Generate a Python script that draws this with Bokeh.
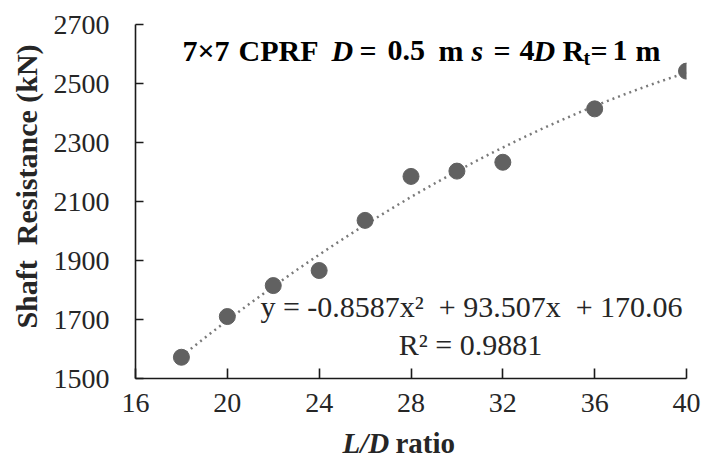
import numpy as np
from bokeh.plotting import figure
from bokeh.layouts import column
from bokeh.models import Range1d, FixedTicker, Label, ColumnDataSource
from bokeh.embed import file_html
from bokeh.resources import INLINE

# ---- data ----
ld_ratio = [18, 20, 22, 24, 26, 28, 30, 32, 36, 40]
shaft_resistance = [1572, 1710, 1815, 1866, 2036, 2185, 2203, 2233, 2414, 2542]
trend_coeffs = [-0.8587, 93.507, 170.06]   # printed polynomial trendline
x_ticks = [16, 20, 24, 28, 32, 36, 40]
y_ticks = [1500, 1700, 1900, 2100, 2300, 2500, 2700]
eq_text = "y = -0.8587x\u00b2\u00a0 + 93.507x\u00a0 + 170.06"
r2_text = "R\u00b2 = 0.9881"
y_title = "\u00a0\u00a0\u00a0\u00a0Shaft\u00a0 Resistance (kN)"

# ---- layout geometry (pixels) ----
W, H = 702, 458
MAIN_H = 425
FL, FR, FT, FB = 135, 686, 24, 378
XMIN, XMAX, YMIN, YMAX = 16, 40, 1500, 2700
BASE_SHIFT = 9   # rendered baseline sits this many px below the requested one

def dx(px):
    return XMIN + (px - FL) * (XMAX - XMIN) / (FR - FL)

def dy(py):
    py = py - BASE_SHIFT
    return YMIN + (FB - py) * (YMAX - YMIN) / (FB - FT)

SERIF = "Liberation Serif"
TICK_COLOR = "#262626"

xr = Range1d(XMIN, XMAX)
p = figure(width=W, height=MAIN_H, output_backend="svg", toolbar_location=None,
           x_range=xr, y_range=Range1d(YMIN, YMAX), title=None,
           min_border_left=FL, min_border_right=W - FR,
           min_border_top=FT, min_border_bottom=MAIN_H - FB)
p.outline_line_color = None
p.xgrid.visible = False
p.ygrid.visible = False
p.background_fill_color = "white"
p.border_fill_color = "white"

for ax, ticks, tin in ((p.xaxis[0], x_ticks, 10), (p.yaxis[0], y_ticks, 8)):
    ax.ticker = FixedTicker(ticks=ticks)
    ax.minor_tick_line_color = None
    ax.major_tick_in = tin
    ax.major_tick_out = 0
    ax.axis_line_color = "#1a1a1a"
    ax.axis_line_width = 1.6
    ax.major_tick_line_color = "#1a1a1a"
    ax.major_tick_line_width = 1.6
    ax.major_label_text_font = SERIF
    ax.major_label_text_font_size = "28px"
    ax.major_label_text_color = TICK_COLOR
p.yaxis[0].major_label_standoff = 26
p.xaxis[0].major_label_standoff = 15

p.yaxis[0].axis_label = y_title
p.yaxis[0].axis_label_text_font = SERIF
p.yaxis[0].axis_label_text_font_size = "30px"
p.yaxis[0].axis_label_text_font_style = "bold"
p.yaxis[0].axis_label_text_color = TICK_COLOR
p.yaxis[0].axis_label_standoff = 8

# trendline from printed coefficients
xt = np.linspace(min(ld_ratio), max(ld_ratio), 200)
yt = np.polyval(trend_coeffs, xt)
p.line(xt, yt, line_color="#7a7a7a", line_width=2.5, line_dash="2 4")

src = ColumnDataSource(dict(x=ld_ratio, y=shaft_resistance))
p.scatter("x", "y", source=src, size=16, fill_color="#616161", line_color="#616161")

def lab(fig, text, x, y, size="30px", style="normal", align="left", color="black"):
    fig.add_layout(Label(x=x, y=y, text=text, text_font=SERIF,
                         text_font_size=size, text_font_style=style,
                         text_align=align, text_baseline="alphabetic",
                         text_color=color))

# title with mixed styles (pixel positions converted to data)
title_parts = [
    ("7\u00d77", 182, 59, "30px", "bold"),
    ("CPRF", 238, 59, "30px", "bold"),
    ("D", 331, 59, "30px", "bold italic"),
    ("=", 359, 59, "30px", "bold"),
    ("0.5", 387, 59, "30px", "bold"),
    ("m", 438, 59, "30px", "bold"),
    ("s", 471, 59, "30px", "bold italic"),
    ("=", 493, 59, "30px", "bold"),
    ("4", 519, 59, "30px", "bold"),
    ("D", 533, 59, "30px", "bold italic"),
    ("R", 562, 59, "30px", "bold"),
    ("t", 583, 66, "20px", "bold"),
    ("=", 590, 59, "30px", "bold"),
    ("1", 612, 59, "30px", "bold"),
    ("m", 635, 59, "30px", "bold"),
]
for t, px, py, sz, st in title_parts:
    lab(p, t, dx(px), dy(py), size=sz, style=st)

# equation and R^2
lab(p, eq_text, dx(471), dy(315), align="center", color=TICK_COLOR)
lab(p, r2_text, dx(470), dy(353), align="center", color=TICK_COLOR)

# strip below the main plot carrying the x-axis title (frames align in the column)
SH = H - MAIN_H
strip = figure(width=W, height=SH, output_backend="svg", toolbar_location=None,
               x_range=xr, y_range=Range1d(0, SH), title=None,
               min_border=0, x_axis_location=None, y_axis_location=None)
strip.outline_line_color = None
strip.xgrid.visible = False
strip.ygrid.visible = False
strip.background_fill_color = "white"
strip.border_fill_color = "white"
BASE = H - (451 - BASE_SHIFT)
lab(strip, "L/D", dx(342), BASE, size="29px", style="bold italic", color=TICK_COLOR)
lab(strip, "ratio", dx(395), BASE, size="29px", style="bold", color=TICK_COLOR)

layout = column(p, strip, spacing=0)
open("out.html", "w").write(file_html(layout, INLINE))
